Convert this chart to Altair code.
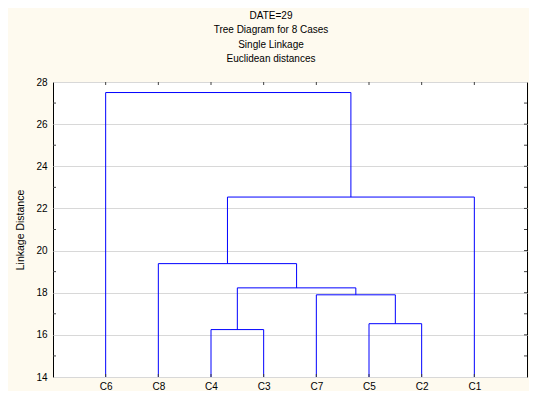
import altair as alt
import pandas as pd

# Leaf order along the x axis
cases = ["C6", "C8", "C4", "C3", "C7", "C5", "C2", "C1"]
# Merge steps (single linkage): members joined and linkage distance
merge_a = ["C4", "C5", "C7", "M0", "C8", "M4", "C6"]
merge_b = ["C3", "C2", "M1", "M2", "M3", "C1", "M5"]
merge_h = [16.25, 16.53, 17.90, 18.23, 19.38, 22.54, 27.50]

y_ticks = [14, 16, 18, 20, 22, 24, 26, 28]
y_minor = [15, 16, 17, 18, 19, 20, 21, 22, 23, 24, 25, 26, 27]
title_lines = ["DATE=29", "Tree Diagram for 8 Cases", "Single Linkage", "Euclidean distances"]
y_title = "Linkage Distance"
base = 14

# Build dendrogram segments from the merge list
pos = {c: i + 1 for i, c in enumerate(cases)}
hgt = {c: base for c in cases}
segs = []
for i, (a, b, h) in enumerate(zip(merge_a, merge_b, merge_h)):
    xa, xb = pos[a], pos[b]
    segs.append(dict(x=xa, x2=xa, y=hgt[a], y2=h))
    segs.append(dict(x=xb, x2=xb, y=hgt[b], y2=h))
    segs.append(dict(x=xa, x2=xb, y=h, y2=h))
    pos[f"M{i}"] = (xa + xb) / 2
    hgt[f"M{i}"] = h
seg_df = pd.DataFrame(segs)

W, H = 474, 295
FONT = "Liberation Sans"

xs = alt.Scale(domain=[0, len(cases) + 1], nice=False, zero=False)
ys = alt.Scale(domain=[14, 28], nice=False, zero=False)

label_expr = "[" + ",".join(f"'{c}'" for c in cases) + "][datum.value - 1]"

lines = alt.Chart(seg_df).mark_rule(color="#0000FF", strokeWidth=1).encode(
    x=alt.X("x:Q", scale=xs,
            axis=alt.Axis(values=list(range(1, len(cases) + 1)), labelExpr=label_expr,
                          title=None, grid=False, ticks=False, domain=False,
                          labelFont=FONT, labelFontSize=10, labelColor="black",
                          labelPadding=4)),
    x2="x2:Q",
    y=alt.Y("y:Q", scale=ys,
            axis=alt.Axis(values=y_ticks, title=y_title, grid=True, gridColor="#D8D8D8",
                          gridWidth=1, ticks=False, domain=False,
                          labelFont=FONT, labelFontSize=10, labelColor="black",
                          labelPadding=6, titleFont=FONT, titleFontSize=10.5,
                          titleFontWeight="normal", titleColor="black", titlePadding=10)),
    y2="y2:Q",
)

case_df = pd.DataFrame({"x": list(range(1, len(cases) + 1))})
minor_df = pd.DataFrame({"y": y_minor})
odd_df = pd.DataFrame({"y": [v for v in y_minor if v % 2 == 1]})

tick_col = "#404040"
bottom_ticks = alt.Chart(case_df).mark_rule(color=tick_col).encode(
    x=alt.X("x:Q", scale=xs), y=alt.value(H), y2=alt.value(H - 3))
top_ticks = alt.Chart(case_df).mark_rule(color=tick_col).encode(
    x=alt.X("x:Q", scale=xs), y=alt.value(0), y2=alt.value(3))
right_ticks = alt.Chart(minor_df).mark_rule(color=tick_col).encode(
    y=alt.Y("y:Q", scale=ys), x=alt.value(W - 3), x2=alt.value(W))
left_ticks = alt.Chart(odd_df).mark_rule(color=tick_col).encode(
    y=alt.Y("y:Q", scale=ys), x=alt.value(0), x2=alt.value(3))

chart = alt.layer(lines, bottom_ticks, top_ticks, right_ticks, left_ticks).properties(
    width=W, height=H,
    background="#FEFAEF",
    autosize=alt.AutoSizeParams(type="none"),
    padding={"left": 45, "top": 74, "right": 2, "bottom": 14},
    title=alt.TitleParams(text=title_lines, font=FONT, fontSize=10, fontWeight="normal",
                          color="black", lineHeight=14.5, anchor="middle", dx=-19,
                          offset=13),
).configure_view(fill="white", stroke="black", strokeWidth=1)

chart.save("out.html", embed_options={"renderer": "svg", "actions": False})
